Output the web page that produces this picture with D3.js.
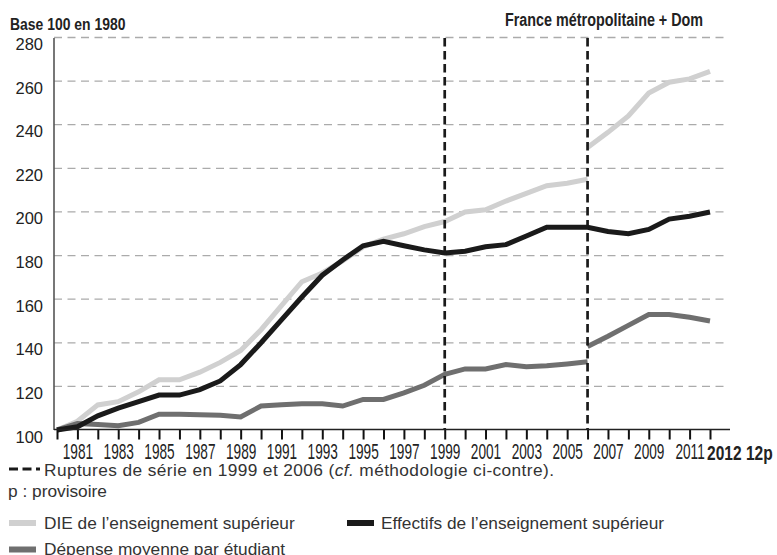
<!DOCTYPE html>
<html>
<head>
<meta charset="utf-8">
<script src="https://cdn.jsdelivr.net/npm/d3@7/dist/d3.min.js"></script>
<style>
  html, body { margin: 0; padding: 0; background: #fff; }
  svg { display: block; }
</style>
</head>
<body>
<script>
// Data (base 100 en 1980)
var years = [1980, 1981, 1982, 1983, 1984, 1985, 1986, 1987, 1988, 1989, 1990,
  1991, 1992, 1993, 1994, 1995, 1996, 1997, 1998, 1999, 2000, 2001, 2002,
  2003, 2004, 2005, 2006, 2007, 2008, 2009, 2010, 2011, 2012];

// series are cut in 2006 (rupture de série)
var yearsBefore = [1980, 1981, 1982, 1983, 1984, 1985, 1986, 1987, 1988, 1989, 1990,
  1991, 1992, 1993, 1994, 1995, 1996, 1997, 1998, 1999, 2000, 2001, 2002,
  2003, 2004, 2005, 2006];
var yearsAfter = [2006, 2007, 2008, 2009, 2010, 2011, 2012];

var dieBefore = [100, 104, 111.5, 113, 117.5, 123, 123, 126.5, 131, 136.5, 146,
  157, 168, 172, 177.5, 184, 187.5, 190, 193.3, 195.6, 200, 201, 205,
  208.5, 212, 213.2, 215];
var dieAfter = [229.5, 236.5, 244, 254.5, 259.5, 261, 264.5];

var effectifs = [100, 101.5, 106.5, 110, 113, 116, 116, 118.5, 122.5, 130, 140,
  150.5, 161, 171, 178, 184.5, 186.5, 184.5, 182.6, 181.2, 182, 184, 185,
  189, 193, 193, 193, 191, 190, 192, 196.7, 198, 200];

var depenseBefore = [100, 103, 102.5, 102, 103.5, 107.2, 107.2, 107, 106.8, 106, 111,
  111.6, 112, 112, 111, 114, 114, 117, 120.5, 125.5, 128, 128, 130,
  129, 129.5, 130.3, 131.3];
var depenseAfter = [138.3, 143, 148, 153, 153, 151.7, 150];

var ruptures = [1999, 2006];
var yTicks = [100, 120, 140, 160, 180, 200, 220, 240, 260, 280];
var xLabelYears = [1981, 1983, 1985, 1987, 1989, 1991, 1993, 1995, 1997, 1999,
  2001, 2003, 2005, 2007, 2009, 2011];

// Colors
var cDie = "#d0d0d0";
var cEff = "#1a1a1a";
var cDep = "#6f6f6f";

var width = 777, height = 555;
var sansFont = "'Liberation Sans', Arial, sans-serif";

var svg = d3.select("body")
  .append("svg")
  .attr("width", width)
  .attr("height", height);

var x = d3.scaleLinear().domain([1980, 2012]).range([57, 710]);
var y = d3.scaleLinear().domain([100, 280]).range([430, 37.5]);

// horizontal dashed grid
svg.append("g")
  .selectAll("line")
  .data(yTicks.filter(function(d) { return d > 100; }))
  .enter()
  .append("line")
  .attr("x1", 54)
  .attr("x2", 729)
  .attr("y1", function(d) { return y(d); })
  .attr("y2", function(d) { return y(d); })
  .attr("stroke", "#ababab")
  .attr("stroke-width", 1.3)
  .attr("stroke-dasharray", "8,5.5");

// y axis
var yAxis = svg.append("g")
  .attr("transform", "translate(54,0)")
  .call(d3.axisLeft(y).tickValues(yTicks).tickSize(0).tickPadding(11));
yAxis.select(".domain").remove();
yAxis.selectAll("text")
  .attr("dy", 12)
  .attr("fill", "#222")
  .style("font-family", sansFont)
  .style("font-size", "16.5px");

svg.append("line")
  .attr("x1", 54).attr("x2", 54)
  .attr("y1", 38).attr("y2", 430)
  .attr("stroke", "#555")
  .attr("stroke-width", 1.6);

// lines
var line = d3.line()
  .x(function(d) { return x(d[0]); })
  .y(function(d) { return y(d[1]); });

function drawSeries(xs, vals, color) {
  svg.append("path")
    .datum(d3.zip(xs, vals))
    .attr("d", line)
    .attr("fill", "none")
    .attr("stroke", color)
    .attr("stroke-width", 5);
}

drawSeries(yearsBefore, dieBefore, cDie);
drawSeries(yearsAfter, dieAfter, cDie);
drawSeries(yearsBefore, depenseBefore, cDep);
drawSeries(yearsAfter, depenseAfter, cDep);
drawSeries(years, effectifs, cEff);

// ruptures de série
svg.append("g")
  .selectAll("line")
  .data(ruptures)
  .enter()
  .append("line")
  .attr("x1", function(d) { return x(d); })
  .attr("x2", function(d) { return x(d); })
  .attr("y1", 38)
  .attr("y2", 429)
  .attr("stroke", "#1a1a1a")
  .attr("stroke-width", 2.7)
  .attr("stroke-dasharray", "8.5,4.5");

// x axis (condensed labels, squeezed horizontally)
var xAxis = svg.append("g")
  .attr("transform", "translate(0,429.5)")
  .call(d3.axisBottom(x)
    .tickValues(years)
    .tickSize(10)
    .tickFormat(function(d) { return xLabelYears.indexOf(d) >= 0 ? d : ""; }));
xAxis.select(".domain").remove();
xAxis.selectAll(".tick line")
  .attr("stroke", "#111")
  .attr("stroke-width", 2);
xAxis.selectAll("text")
  .attr("y", 30)
  .attr("dy", 0)
  .attr("fill", "#222")
  .attr("transform", "scale(0.62,1)")
  .style("font-family", sansFont)
  .style("font-size", "22px");

svg.append("line")
  .attr("x1", 54).attr("x2", 730)
  .attr("y1", 429.5).attr("y2", 429.5)
  .attr("stroke", "#222")
  .attr("stroke-width", 1.4);

svg.append("text")
  .attr("transform", "translate(707,459.5) scale(0.74,1)")
  .attr("fill", "#222")
  .style("font-family", sansFont)
  .style("font-weight", "bold")
  .style("font-size", "21px")
  .text("2012 12p");

// titles
svg.append("text")
  .attr("transform", "translate(10,30) scale(0.82,1)")
  .attr("fill", "#222")
  .style("font-family", sansFont)
  .style("font-weight", "bold")
  .style("font-size", "17px")
  .text("Base 100 en 1980");

svg.append("text")
  .attr("transform", "translate(505,26) scale(0.82,1)")
  .attr("fill", "#222")
  .style("font-family", sansFont)
  .style("font-weight", "bold")
  .style("font-size", "17.5px")
  .text("France métropolitaine + Dom");

// legend
svg.append("line")
  .attr("x1", 9).attr("x2", 40)
  .attr("y1", 469).attr("y2", 469)
  .attr("stroke", "#1a1a1a")
  .attr("stroke-width", 3)
  .attr("stroke-dasharray", "9,4.5");

var rupt = svg.append("text")
  .attr("x", 44)
  .attr("y", 475.7)
  .attr("fill", "#333")
  .style("font-family", sansFont)
  .style("font-size", "17.3px")
  .style("letter-spacing", "0.4px");
rupt.append("tspan").text("Ruptures de série en 1999 et 2006 (");
rupt.append("tspan").style("font-style", "italic").text("cf.");
rupt.append("tspan").text(" méthodologie ci-contre).");

svg.append("text")
  .attr("x", 8)
  .attr("y", 497)
  .attr("fill", "#333")
  .style("font-family", sansFont)
  .style("font-size", "17.3px")
  .text("p : provisoire");

var legendItems = [
  {label: "DIE de l’enseignement supérieur", color: cDie, lx: 9, ly: 523, tx: 44},
  {label: "Effectifs de l’enseignement supérieur", color: cEff, lx: 347, ly: 523, tx: 381},
  {label: "Dépense moyenne par étudiant", color: cDep, lx: 9, ly: 549.5, tx: 44}
];

legendItems.forEach(function(d) {
  svg.append("line")
    .attr("x1", d.lx).attr("x2", d.lx + 27)
    .attr("y1", d.ly).attr("y2", d.ly)
    .attr("stroke", d.color)
    .attr("stroke-width", 6);
  svg.append("text")
    .attr("x", d.tx)
    .attr("y", d.ly + 5.5)
    .attr("fill", "#333")
    .style("font-family", sansFont)
    .style("font-size", "17.3px")
    .text(d.label);
});
</script>
</body>
</html>
